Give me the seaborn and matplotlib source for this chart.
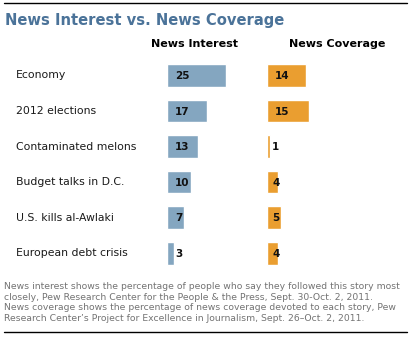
import matplotlib
matplotlib.use("Agg")
import matplotlib.pyplot as plt
import matplotlib.transforms as mtransforms
import seaborn as sns
import pandas as pd

categories = ["Economy", "2012 elections", "Contaminated melons",
              "Budget talks in D.C.", "U.S. kills al-Awlaki", "European debt crisis"]
interest = [25, 17, 13, 10, 7, 3]
coverage = [14, 15, 1, 4, 5, 4]
title = "News Interest vs. News Coverage"
headers = ["News Interest", "News Coverage"]
notes = [
    "News interest shows the percentage of people who say they followed this story most",
    "closely, Pew Research Center for the People & the Press, Sept. 30-Oct. 2, 2011.",
    "News coverage shows the percentage of news coverage devoted to each story, Pew",
    "Research Center\u2019s Project for Excellence in Journalism, Sept. 26\u2013Oct. 2, 2011.",
]

BLUE = "#84A6C0"
ORANGE = "#EA9E30"
TITLE_C = "#4B7399"

sns.set_theme(style="white")
plt.rcParams["font.family"] = ["DejaVu Sans"]

W, H = 411, 337
fig = plt.figure(figsize=(W / 100, H / 100), dpi=100)
fig.patch.set_facecolor("white")


def rect(left, top, width, height):
    return [left / W, 1 - (top + height) / H, width / W, height / H]


row0, step = 75.3, 35.6
top = row0 - step / 2
height = step * len(categories)
XMAX = 40

df = pd.DataFrame({"cat": categories, "interest": interest, "coverage": coverage})

panels = [
    (167, 2.36, "interest", BLUE),
    (267, 2.79, "coverage", ORANGE),
]
axes = []
for left, ppu, col, color in panels:
    wpx = XMAX * ppu
    ax = fig.add_axes(rect(left, top, wpx, height))
    sns.barplot(data=df, x=col, y="cat", orient="h", color=color,
                saturation=1, width=22.7 / step, ax=ax)
    ax.set_xlim(0, XMAX)
    ax.set_ylim(len(categories) - 0.5, -0.5)
    ax.axis("off")
    for i, v in enumerate(df[col]):
        off = 8 if (col == "interest" or v >= 10) else 5
        ax.text(off / ppu, i + 0.02, str(v), ha="left", va="center",
                fontsize=7.5, fontweight="bold", color="#111111")
    axes.append(ax)

# category labels
tr = mtransforms.blended_transform_factory(fig.transFigure, axes[0].transData)
for i, c in enumerate(categories):
    axes[0].text(16 / W, i, c, transform=tr, ha="left", va="center",
                 fontsize=7.8, color="#1a1a1a", clip_on=False)

# headers
for xc, h in zip([194, 337], headers):
    fig.text(xc / W, 1 - 44 / H, h, ha="center", va="center",
             fontsize=8, fontweight="bold", color="black")

# title
fig.text(5 / W, 1 - 25 / H, title, ha="left", va="baseline",
         fontsize=10.6, fontweight="bold", color=TITLE_C)

# notes
for yc, t in zip([286.3, 297, 308, 318.7], notes):
    fig.text(4 / W, 1 - yc / H, t, ha="left", va="center",
             fontsize=6.7, color="#737373")

# rules
for y in [3.3, 332]:
    fig.add_artist(plt.Line2D([4 / W, 407 / W], [1 - y / H, 1 - y / H],
                              color="black", lw=1.0, transform=fig.transFigure))

fig.savefig("out.png", dpi=100, facecolor="white")
